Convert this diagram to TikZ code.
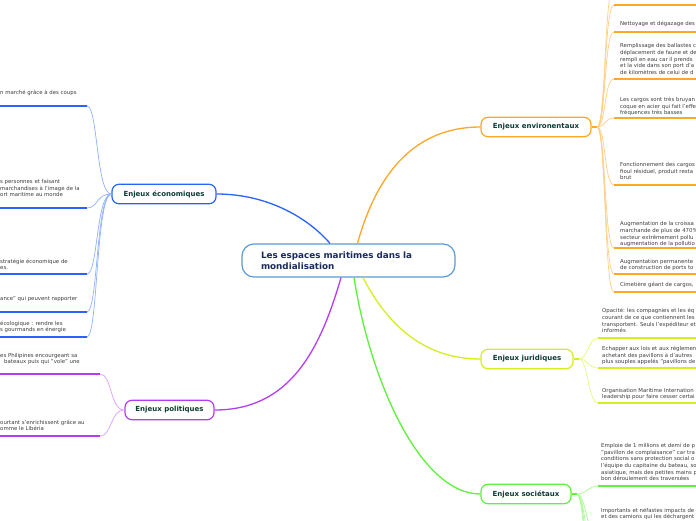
\documentclass[tikz,border=0pt]{standalone}
\usepackage{fontspec}
\setmainfont{DejaVu Sans}
\usetikzlibrary{calc}
\definecolor{cblue}{HTML}{2962FF}
\definecolor{cbluel}{HTML}{8FB1FF}
\definecolor{corange}{HTML}{FFA726}
\definecolor{corangel}{HTML}{FFCF85}
\definecolor{cyel}{HTML}{D4EE1E}
\definecolor{cyell}{HTML}{E8F77F}
\definecolor{cgreen}{HTML}{5DF23B}
\definecolor{cgreenl}{HTML}{A8FA92}
\definecolor{cpurp}{HTML}{B53CF5}
\definecolor{cpurpl}{HTML}{DA9EFA}
\definecolor{ccent}{HTML}{5B9BD5}
\definecolor{ctitle}{HTML}{1B2B5E}
\definecolor{clabel}{HTML}{0E3B36}
\definecolor{ctext}{HTML}{3F3F3F}
\begin{document}
\begin{tikzpicture}[x=1pt,y=-1pt,
  branch/.style={draw=#1, line width=1.2pt, fill=white, rounded corners=7pt, font=\fontsize{7}{8}\selectfont\bfseries, text=clabel, inner sep=0pt, minimum height=19.5pt},
  trunk/.style={draw=#1, line width=1.3pt},
  twig/.style={draw=#1, line width=0.7pt},
  uline/.style={draw=#1, line width=2pt},
  note/.style={font=\fontsize{5.4}{6.7}\selectfont, text=ctext, inner sep=0pt, align=left, anchor=base west}]
\useasboundingbox (0,0) rectangle (696,520);
\clip (0,0) rectangle (696,520);
\fill[white] (0,0) rectangle (696,520);

% central and branch nodes
\node[draw=ccent, line width=1.2pt, fill=white, rounded corners=12pt, minimum width=213pt, minimum height=33pt, text width=175pt, align=left, font=\fontsize{8.8}{11.5}\selectfont\bfseries, text=ctitle, inner sep=0pt] (cen) at (348.5,260.5) {Les espaces maritimes dans la\\mondialisation};
\node[branch=cblue, minimum width=104pt] (eco) at (164,194) {Enjeux économiques};
\node[branch=corange, minimum width=110pt] (env) at (536,127) {Enjeux environentaux};
\node[branch=cyel, minimum width=92pt] (jur) at (527,359) {Enjeux juridiques};
\node[branch=cgreen, minimum width=90pt] (soc) at (526,494) {Enjeux sociétaux};
\node[branch=cpurp, minimum width=89pt] (pol) at (169.5,410) {Enjeux politiques};

% trunks
\draw[trunk=cblue] ([xshift=-18.5pt]cen.north) .. controls (310,220) and (270,194) .. (eco.east);
\draw[trunk=corange] ([xshift=9pt]cen.north) .. controls (375,180) and (410,127) .. (env.west);
\draw[trunk=cyel] ([xshift=14.5pt]cen.south) .. controls (385,320) and (420,359) .. (jur.west);
\draw[trunk=cgreen] ([xshift=5.5pt]cen.south) .. controls (370,380) and (420,494) .. (soc.west);
\draw[trunk=cpurp] ([xshift=-7.5pt]cen.south) .. controls (320,350) and (290,410) .. (pol.east);

% economic children
\foreach \n/\y in {b1/106,b2/208,b3/274,b4/312,b5/337}{
  \coordinate (\n) at (87,\y);
  \draw[twig=cbluel] (eco.west) .. controls (96,194) and (98,\y) .. (\n);
  \draw[uline=cblue] (\n) -- (-5,\y);
}
% political children
\foreach \n/\y in {p1/374,p2/436}{
  \coordinate (\n) at (100,\y);
  \draw[twig=cpurpl] (pol.west) .. controls (110,410) and (112,\y) .. (\n);
  \draw[uline=cpurp] (\n) -- (-5,\y);
}
% environment children
\coordinate (estub) at (597,127);
\draw[corange, line width=1.5pt] (env.east) -- (estub);
\foreach \n/\y in {e0/-14,e1/5,e2/32,e3/79,e4/118,e5/185,e6/248,e7/274,e8/292}{
  \coordinate (\n) at (614,\y);
  \draw[twig=corangel] (estub) .. controls (606,127) and (604,\y) .. (\n);
  \draw[uline=corange] (\n) -- (700,\y);
}
% legal children
\coordinate (jstub) at (579,359);
\draw[cyel, line width=1.5pt] (jur.east) -- (jstub);
\foreach \n/\y in {j1/338,j2/368,j3/403}{
  \coordinate (\n) at (598,\y);
  \draw[twig=cyell] (jstub) .. controls (588,359) and (588,\y) .. (\n);
  \draw[uline=cyel] (\n) -- (700,\y);
}
% societal children
\coordinate (sstub) at (577,494);
\draw[cgreen, line width=1.5pt] (soc.east) -- (sstub);
\coordinate (s1) at (598,486);
\draw[twig=cgreenl] (sstub) .. controls (587,494) and (588,486) .. (s1);
\draw[uline=cgreen] (s1) -- (700,486);
\foreach \n/\y in {s2/540,s3/575,s4/610,s5/650}{
  \coordinate (\n) at (598,\y);
  \draw[twig=cgreenl] (sstub) .. controls (586,494) and (588,\y) .. (\n);
}

% note texts, left side (anchor = baseline of last line)
\node[note] (tb1) at (0,94.8) {n marché grâce à des coups};
\node[note] (tb2) at (0,196.8) {s personnes et faisant\\marchandises à l'image de la\\ort maritime au monde};
\node[note] (tb3) at (0,269.8) {stratégie économique de\\es.};
\node[note] (tb4) at (0,300.8) {ance" qui peuvent rapporter};
\node[note] (tb5) at (0,331.8) {écologique : rendre les\\s gourmands en énergie};
\node[note] (tp1) at (0,363.8) {es Philipines encourgeant sa\\\hspace*{4pt}bateaux puis qui "vole" une};
\node[note] (tp2) at (0,430.8) {ourtant s'enrichissent grâce au\\omme le Libéria};

% note texts, right side
\node[note] (te2) at (620,25.8) {Nettoyage et dégazage des};
\node[note] (te3) at (620,74.5) {Remplissage des ballastes c\\déplacement de faune et de\\rempli en eau car il prends\\et la vide dans son port d'a\\de kilomètres de celui de d};
\node[note] (te4) at (620,114.8) {Les cargos sont très bruyan\\coque en acier qui fait l'effe\\fréquences très basses};
\node[note] (te5) at (620,179.8) {Fonctionnement des cargos\\fioul résiduel, produit resta\\brut};
\node[note] (te6) at (620,245.8) {Augmentation de la croissa\\marchande de plus de 470\%\\secteur extrêmement pollu\\augmentation de la pollutio};
\node[note] (te7) at (620,269.8) {Augmentation permanente\\de construction de ports to};
\node[note] (te8) at (620,286.8) {Cimetière géant de cargos,};
\node[note] (tj1) at (602,332.8) {Opacité: les compagnies et les éq\\courant de ce que contiennent les\\transportent. Seuls l'expéditeur et\\informés};
\node[note] (tj2) at (602,363.8) {Echapper aux lois et aux réglemen\\achetant des pavillons à d'autres\\plus souples appelés "pavillons de};
\node[note] (tj3) at (602,398.8) {Organisation Maritime Internation\\leadership pour faire cesser certai};
\node[note] (ts1) at (601,480.8) {Emploie de 1 millions et demi de p\\"pavillon de complaisance" car tra\\conditions sans protection social o\\l'équipe du capitaine du bateau, so\\asiatique, mais des petites mains p\\bon déroulement des traversées};
\node[note] (ts2) at (601,518.8) {Importants et néfastes impacts de\\et des camions qui les déchargent};
\end{tikzpicture}
\end{document}
